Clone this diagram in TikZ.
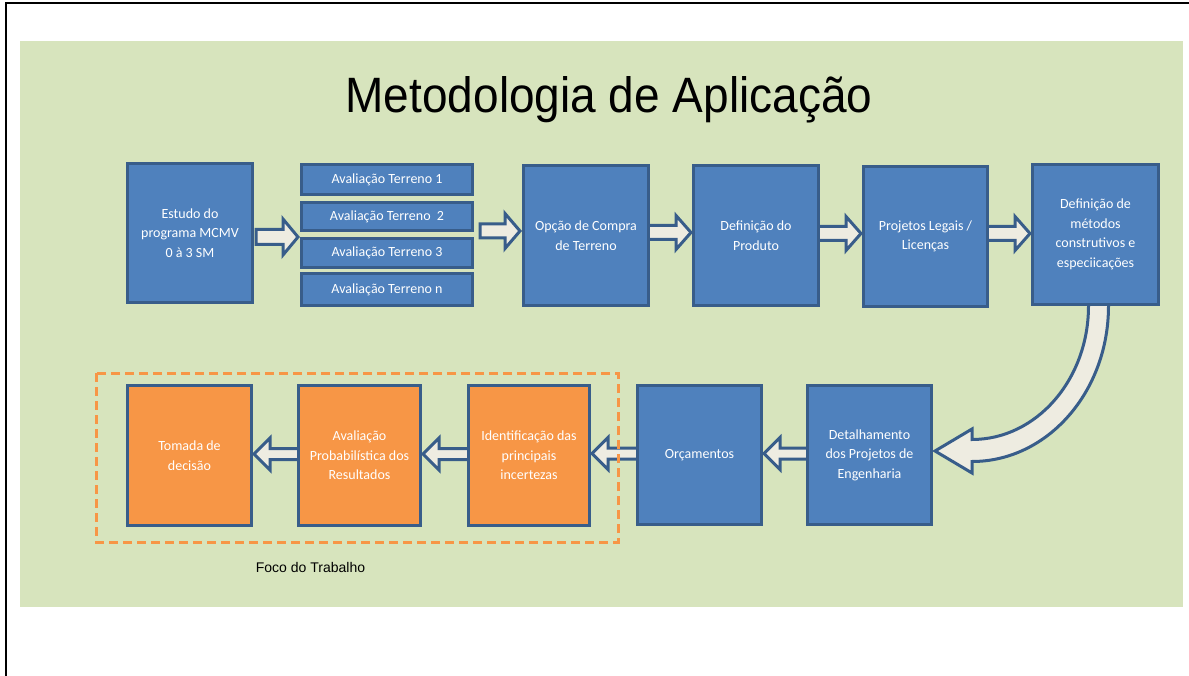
\documentclass[tikz,border=0pt]{standalone}
\usepackage{fontspec}
\usepackage{graphicx}
\usetikzlibrary{calc}
\setmainfont{Liberation Sans}
\newfontfamily\carlito{Carlito}
\definecolor{bggreen}{HTML}{D7E4BD}
\definecolor{boxblue}{HTML}{4F81BD}
\definecolor{bordblue}{HTML}{385D8A}
\definecolor{boxorange}{HTML}{F79646}
\definecolor{arrfill}{HTML}{EEECE1}
\pgfdeclarelayer{bglayer}
\pgfdeclarelayer{arrlayer}
\pgfsetlayers{bglayer,arrlayer,main}
\tikzset{
  bbox/.style={draw=bordblue, fill=boxblue, line width=3pt, text=white,
    font=\carlito\fontsize{14}{19.5}\selectfont, align=center, inner sep=2pt},
  obox/.style={bbox, fill=boxorange},
  arrstyle/.style={draw=bordblue, fill=arrfill, line width=3pt, line join=miter},
  focusbox/.style={draw=boxorange, line width=3pt, dash pattern=on 9pt off 5pt}
}
% #1 tail, #2 tip (x only), #3 shaft half, #4 head half, #5 head length
\newcommand{\blockarrow}[5]{%
  \draw[arrstyle] let \p1=(#1), \p2=(#2), \n2={\x2-#5*((\x2>\x1)*2-1)} in
    ({\x1},{\y1+#3pt}) -- ({\n2},{\y1+#3pt}) -- ({\n2},{\y1+#4pt})
    -- ({\x2},{\y1}) -- ({\n2},{\y1-#4pt}) -- ({\n2},{\y1-#3pt})
    -- ({\x1},{\y1-#3pt}) -- cycle;}
\begin{document}
\begin{tikzpicture}[x=1pt,y=-1pt]
\useasboundingbox (0,0) rectangle (1189,676);
\begin{pgfonlayer}{bglayer}
  \fill[bggreen] (20,41) rectangle (1183,607);
\end{pgfonlayer}
\draw[line width=2.2pt] (5.7,676) -- (5.7,3) -- (1189,3);

\node[font=\fontsize{46}{50}\selectfont, anchor=base] (title) at (609,113)
  {\scalebox{1}[1.08]{Metodologia de Aplicação}};

% top row
\node[bbox, minimum width=125pt, minimum height=139pt] (est) at (190,233)
  {Estudo do\\programa MCMV\\0 à 3 SM};
\node[bbox, minimum width=171pt, minimum height=30pt] (av1) at (387,179.5) {Avaliação Terreno 1};
\node[bbox, minimum width=171pt, minimum height=28pt] (av2) at (387,216.5) {Avaliação Terreno\ \ 2};
\node[bbox, minimum width=171pt, minimum height=29pt] (av3) at (387,253) {Avaliação Terreno 3};
\node[bbox, minimum width=171pt, minimum height=32pt] (av4) at (387,289.5) {Avaliação Terreno n};
\node[bbox, minimum width=125pt, minimum height=140pt] (opc) at (586,235.5)
  {Opção de Compra\\de Terreno};
\node[bbox, minimum width=125pt, minimum height=140pt] (def) at (756,235.5)
  {Definição do\\Produto};
\node[bbox, minimum width=124pt, minimum height=140pt] (proj) at (925.5,236.5)
  {Projetos Legais /\\Licenças};
\node[bbox, minimum width=126pt, minimum height=140pt] (met) at (1095.5,234.5)
  {Definição de\\métodos\\construtivos e\\especiicações};

% bottom row
\node[obox, minimum width=124pt, minimum height=140pt] (tom) at (189.5,455.5)
  {Tomada de\\decisão};
\node[obox, minimum width=122pt, minimum height=140pt] (aval) at (359.5,455.5)
  {Avaliação\\Probabilística dos\\Resultados};
\node[obox, minimum width=121pt, minimum height=140pt] (ident) at (529,455.5)
  {Identificação das\\principais\\incertezas};
\node[bbox, minimum width=124pt, minimum height=139pt] (orc) at (699.5,455)
  {Orçamentos};
\node[bbox, minimum width=124pt, minimum height=139pt] (det) at (869.5,455)
  {Detalhamento\\dos Projetos de\\Engenharia};

\draw[focusbox] (96,373) rectangle (618,542);
\node[anchor=base, font=\fontsize{14}{16}\selectfont] (foco) at (310.5,572) {Foco do Trabalho};

\begin{pgfonlayer}{arrlayer}
  \blockarrow{$(est.east)+(2,4)$}{$(av1.west)+(-2,0)$}{7.5}{18}{15}
  \blockarrow{$(av2.east|-opc.west)+(6,-4.5)$}{$(opc.west)+(-2,0)$}{7}{17.5}{15}
  \blockarrow{$(opc.east)+(-3,-3)$}{$(def.west)+(-1,0)$}{7}{17}{15}
  \blockarrow{$(def.east)+(-3,-2)$}{$(proj.west)+(-1,0)$}{7}{17}{15}
  \blockarrow{$(proj.east)+(-3,-3)$}{$(met.west)+(-1,0)$}{7}{17}{15}
  \blockarrow{$(det.west)+(3,-1.5)$}{$(orc.east)+(1,0)$}{5.5}{16}{16}
  \blockarrow{$(orc.west)+(3,-1.5)$}{$(ident.east)+(1,0)$}{5.5}{16}{16}
  \blockarrow{$(ident.west)+(3,-1.5)$}{$(aval.east)+(1,0)$}{5.5}{16}{16}
  \blockarrow{$(aval.west)+(3,-1.5)$}{$(tom.east)+(1,0)$}{5.5}{16}{16}
  % curved arrow
  \draw[arrstyle] ([shift={(13,-4)}]met.south) -- ([shift={(13,0)}]met.south)
    .. controls ([shift={(13,85.9)}]met.south) and ([shift={(114.4,6.5)}]det.east)
    .. ([shift={(39,6.5)}]det.east) -- ([shift={(39,18)}]det.east)
    -- ([shift={(2,-4)}]det.east) -- ([shift={(39,-26)}]det.east)
    -- ([shift={(39,-15.5)}]det.east)
    .. controls ([shift={(103.3,-15.5)}]det.east) and ([shift={(-7,73.7)}]met.south)
    .. ([shift={(-7,0)}]met.south) -- ([shift={(-7,-4)}]met.south) -- cycle;
\end{pgfonlayer}
\end{tikzpicture}
\end{document}
